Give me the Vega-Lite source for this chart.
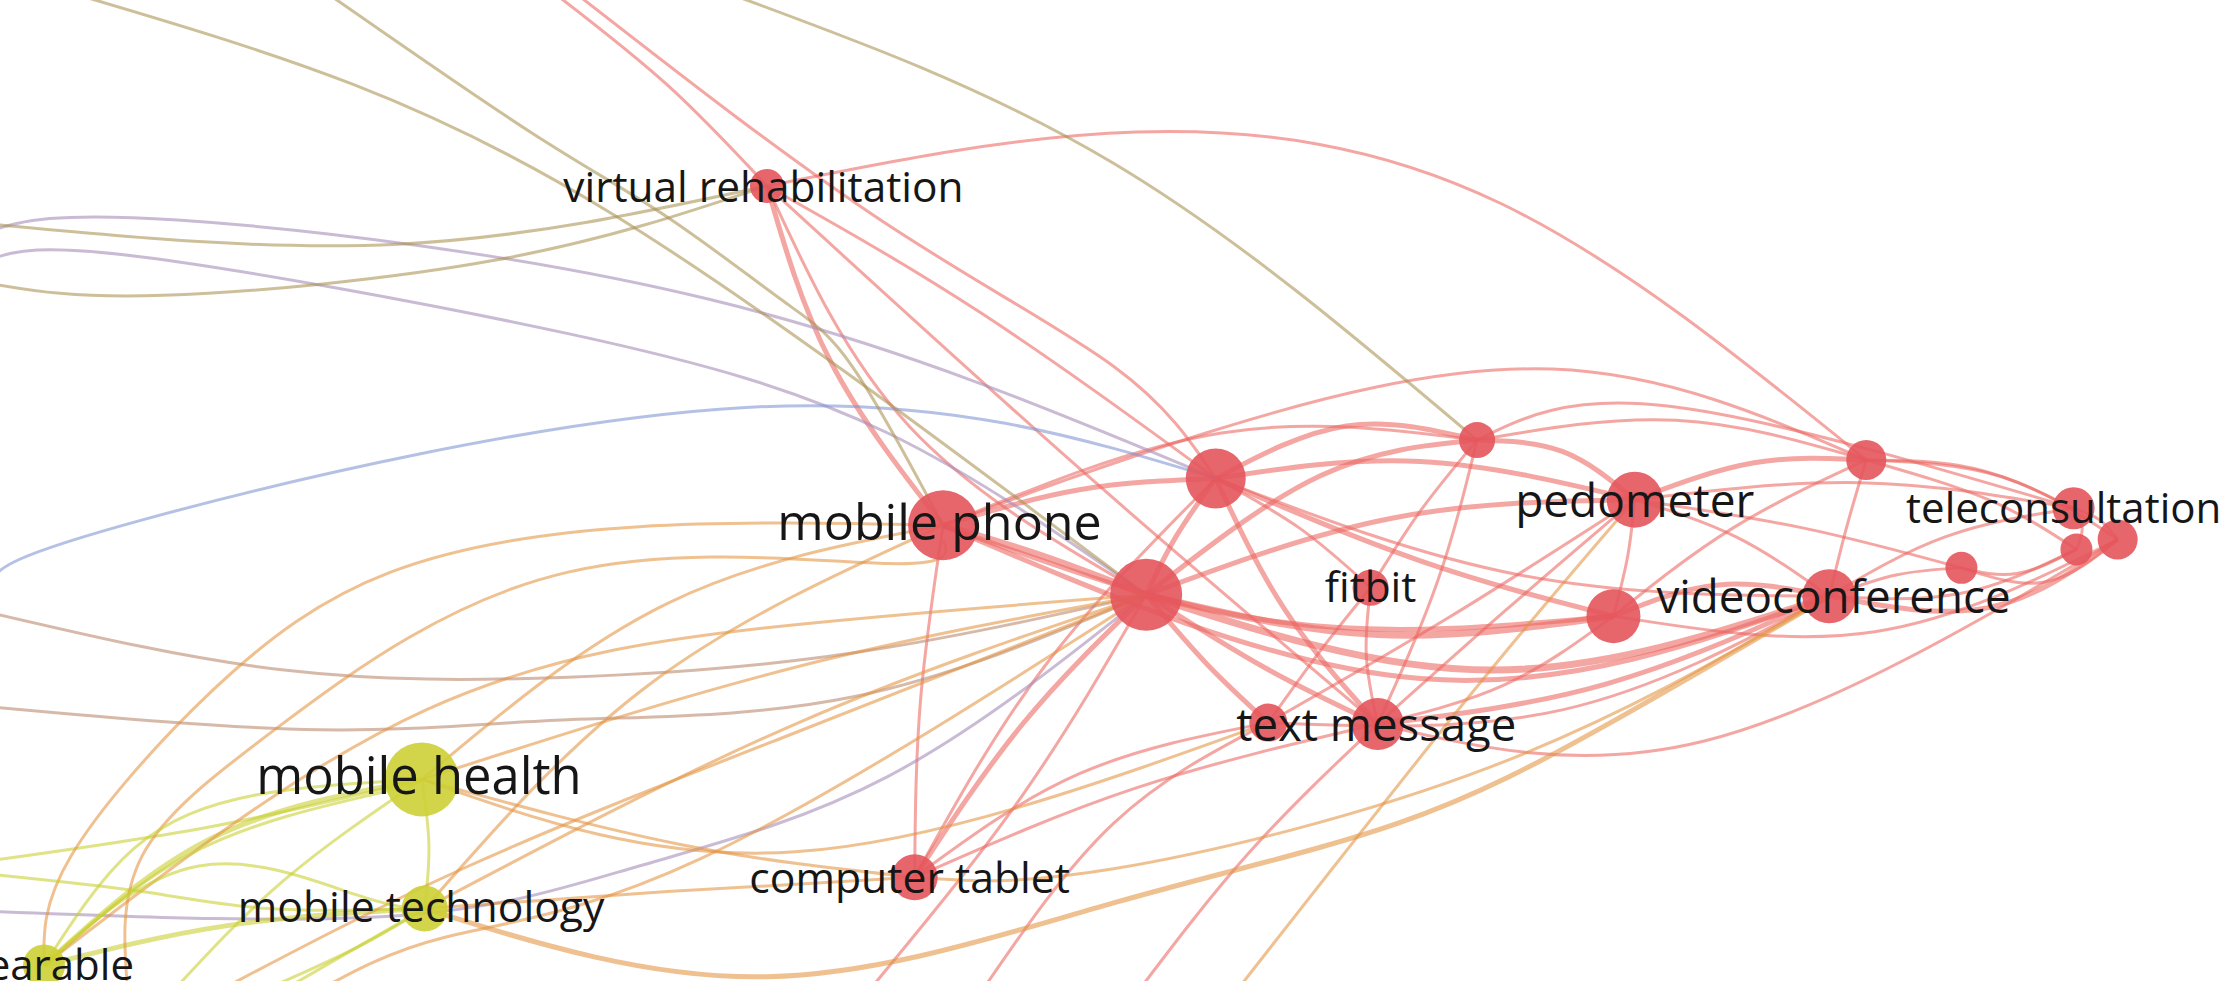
{
"$schema": "https://vega.github.io/schema/vega-lite/v6.json",
"width": 2227, "height": 981, "autosize": "none", "padding": 0,
"background": "white",
"config": {"view": {"stroke": null}},
"datasets": {
"nodes": [
{"id":"A","x":540,"y":131,"w":17,"c":"red","label":"virtual rehabilitation","lx":537.5,"ly":133},
{"id":"B","x":856,"y":337,"w":30,"c":"red","label":"","lx":856,"ly":337},
{"id":"C","x":1040,"y":310,"w":18,"c":"red","label":"","lx":1040,"ly":310},
{"id":"D","x":1151,"y":352,"w":28,"c":"red","label":"pedometer","lx":1151,"ly":354},
{"id":"E","x":1314,"y":324,"w":20,"c":"red","label":"","lx":1314,"ly":324},
{"id":"F","x":1460,"y":358,"w":21,"c":"red","label":"teleconsultation","lx":1453,"ly":359},
{"id":"G","x":1491,"y":380,"w":20,"c":"red","label":"","lx":1491,"ly":380},
{"id":"H","x":1462,"y":387,"w":16,"c":"red","label":"","lx":1462,"ly":387},
{"id":"I","x":1381,"y":400,"w":16,"c":"red","label":"","lx":1381,"ly":400},
{"id":"J","x":1288,"y":420,"w":27,"c":"red","label":"videoconference","lx":1291,"ly":422},
{"id":"K","x":1136,"y":434,"w":27,"c":"red","label":"","lx":1136,"ly":434},
{"id":"L","x":965,"y":414,"w":18,"c":"red","label":"fitbit","lx":965,"ly":415},
{"id":"M","x":807,"y":419,"w":36,"c":"red","label":"","lx":807,"ly":419},
{"id":"N","x":664,"y":370,"w":35,"c":"red","label":"mobile phone","lx":661.5,"ly":370},
{"id":"O","x":893,"y":509,"w":19,"c":"red","label":"","lx":893,"ly":509},
{"id":"P","x":970,"y":510,"w":26,"c":"red","label":"text message","lx":969,"ly":512},
{"id":"Q","x":644,"y":618,"w":23,"c":"red","label":"computer tablet","lx":640.5,"ly":620},
{"id":"R","x":297,"y":549,"w":37,"c":"yellow","label":"mobile health","lx":295,"ly":549},
{"id":"S","x":299,"y":640,"w":23,"c":"yellow","label":"mobile technology","lx":296.5,"ly":640},
{"id":"T","x":31,"y":680,"w":21,"c":"yellow","label":"wearable","lx":31,"ly":681}
],
"edges": [
{"id":1,"t":"rr","w":1,"xs":[540,800,1056,1314],"ys":[131,93,143,324],"k":[0,1,2,3]},
{"id":2,"t":"rr","w":1,"xs":[390,470,540],"ys":[-5,60,131],"k":[0,1,2]},
{"id":3,"t":"rr","w":1,"xs":[405,620,784,856],"ys":[-5,155,258,337],"k":[0,1,2,3]},
{"id":4,"t":"rr","w":1,"xs":[540,690,856],"ys":[131,220,337],"k":[0,1,2]},
{"id":5,"t":"rr","w":1,"xs":[540,640,807],"ys":[131,300,419],"k":[0,1,2]},
{"id":6,"t":"rr","w":2,"xs":[540,585,664],"ys":[131,255,370],"k":[0,1,2]},
{"id":7,"t":"rr","w":1,"xs":[540,760,970],"ys":[131,330,510],"k":[0,1,2]},
{"id":8,"t":"rr","w":1,"xs":[664,849,1093,1314],"ys":[370,305,260,324],"k":[0,1,2,3]},
{"id":9,"t":"rr","w":1,"xs":[1040,1174,1460],"ys":[310,286,358],"k":[0,1,2]},
{"id":10,"t":"rr","w":2,"xs":[856,948,1040],"ys":[337,300,310],"k":[0,1,2]},
{"id":11,"t":"rr","w":2,"xs":[807,930,1040],"ys":[419,335,310],"k":[0,1,2]},
{"id":12,"t":"rr","w":1,"xs":[664,860,1040],"ys":[370,305,310],"k":[0,1,2]},
{"id":13,"t":"rr","w":2,"xs":[856,1000,1151],"ys":[337,325,352],"k":[0,1,2]},
{"id":14,"t":"rr","w":2,"xs":[807,980,1151],"ys":[419,365,352],"k":[0,1,2]},
{"id":15,"t":"rr","w":2,"xs":[1040,1100,1151],"ys":[310,318,352],"k":[0,1,2]},
{"id":16,"t":"rr","w":1,"xs":[1040,1180,1314],"ys":[310,296,324],"k":[0,1,2]},
{"id":17,"t":"rr","w":2,"xs":[1151,1235,1314],"ys":[352,326,324],"k":[0,1,2]},
{"id":18,"t":"rr","w":1,"xs":[856,915,965],"ys":[337,372,414],"k":[0,1,2]},
{"id":19,"t":"rr","w":2,"xs":[856,905,970],"ys":[337,430,510],"k":[0,1,2]},
{"id":20,"t":"rr","w":2,"xs":[807,890,970],"ys":[419,470,510],"k":[0,1,2]},
{"id":21,"t":"rr","w":2,"xs":[807,850,893],"ys":[419,468,509],"k":[0,1,2]},
{"id":22,"t":"rr","w":3,"xs":[807,970,1136],"ys":[419,447,434],"k":[0,1,2]},
{"id":23,"t":"rr","w":3,"xs":[807,1050,1288],"ys":[419,472,420],"k":[0,1,2]},
{"id":24,"t":"rr","w":2,"xs":[856,1000,1136],"ys":[337,395,434],"k":[0,1,2]},
{"id":25,"t":"rr","w":1,"xs":[856,1070,1288],"ys":[337,405,420],"k":[0,1,2]},
{"id":26,"t":"rr","w":2,"xs":[664,900,1136],"ys":[370,438,434],"k":[0,1,2]},
{"id":27,"t":"rr","w":2,"xs":[664,1000,1288],"ys":[370,478,420],"k":[0,1,2]},
{"id":28,"t":"rr","w":3,"xs":[664,735,807],"ys":[370,392,419],"k":[0,1,2]},
{"id":29,"t":"rr","w":2,"xs":[664,760,856],"ys":[370,345,337],"k":[0,1,2]},
{"id":30,"t":"rr","w":2,"xs":[807,828,856],"ys":[419,378,337],"k":[0,1,2]},
{"id":31,"t":"rr","w":1,"xs":[965,962,970],"ys":[414,462,510],"k":[0,1,2]},
{"id":32,"t":"rr","w":1,"xs":[965,930,893],"ys":[414,458,509],"k":[0,1,2]},
{"id":33,"t":"rr","w":1,"xs":[1040,1012,970],"ys":[310,410,510],"k":[0,1,2]},
{"id":34,"t":"rr","w":1,"xs":[1040,1000,965],"ys":[310,360,414],"k":[0,1,2]},
{"id":35,"t":"rr","w":1,"xs":[1151,1060,970],"ys":[352,430,510],"k":[0,1,2]},
{"id":36,"t":"rr","w":1,"xs":[1151,1020,893],"ys":[352,435,509],"k":[0,1,2]},
{"id":37,"t":"rr","w":1,"xs":[1151,1146,1136],"ys":[352,392,434],"k":[0,1,2]},
{"id":38,"t":"rr","w":1,"xs":[1151,1222,1288],"ys":[352,378,420],"k":[0,1,2]},
{"id":39,"t":"rr","w":2,"xs":[1136,1210,1288],"ys":[434,412,420],"k":[0,1,2]},
{"id":40,"t":"rr","w":2,"xs":[970,1130,1288],"ys":[510,482,420],"k":[0,1,2]},
{"id":41,"t":"rr","w":1,"xs":[893,1100,1288],"ys":[509,500,420],"k":[0,1,2]},
{"id":42,"t":"rr","w":1,"xs":[970,1060,1136],"ys":[510,482,434],"k":[0,1,2]},
{"id":43,"t":"rr","w":1,"xs":[1288,1335,1381],"ys":[420,405,400],"k":[0,1,2]},
{"id":44,"t":"rr","w":1,"xs":[1288,1370,1460],"ys":[420,378,358],"k":[0,1,2]},
{"id":45,"t":"rr","w":2,"xs":[1288,1400,1491],"ys":[420,428,380],"k":[0,1,2]},
{"id":46,"t":"rr","w":1,"xs":[1288,1380,1462],"ys":[420,418,387],"k":[0,1,2]},
{"id":47,"t":"rr","w":1,"xs":[1381,1420,1462],"ys":[400,404,387],"k":[0,1,2]},
{"id":48,"t":"rr","w":1,"xs":[1381,1440,1491],"ys":[400,410,380],"k":[0,1,2]},
{"id":49,"t":"rr","w":1,"xs":[1314,1390,1460],"ys":[324,330,358],"k":[0,1,2]},
{"id":50,"t":"rr","w":1,"xs":[1314,1410,1491],"ys":[324,336,380],"k":[0,1,2]},
{"id":51,"t":"rr","w":1,"xs":[1314,1400,1462],"ys":[324,352,387],"k":[0,1,2]},
{"id":52,"t":"rr","w":1,"xs":[1314,1300,1288],"ys":[324,372,420],"k":[0,1,2]},
{"id":53,"t":"rr","w":1,"xs":[1314,1220,1136],"ys":[324,372,434],"k":[0,1,2]},
{"id":54,"t":"rr","w":1,"xs":[1460,1466,1462],"ys":[358,372,387],"k":[0,1,2]},
{"id":55,"t":"rr","w":1,"xs":[1460,1478,1491],"ys":[358,366,380],"k":[0,1,2]},
{"id":56,"t":"rr","w":1,"xs":[970,1200,1491],"ys":[510,522,380],"k":[0,1,2]},
{"id":57,"t":"rr","w":2,"xs":[807,720,644],"ys":[419,510,618],"k":[0,1,2]},
{"id":58,"t":"rr","w":1,"xs":[664,648,644],"ys":[370,495,618],"k":[0,1,2]},
{"id":59,"t":"rr","w":1,"xs":[856,735,644],"ys":[337,470,618],"k":[0,1,2]},
{"id":60,"t":"rr","w":1,"xs":[644,760,893],"ys":[618,545,509],"k":[0,1,2]},
{"id":61,"t":"rr","w":1,"xs":[644,800,970],"ys":[618,555,510],"k":[0,1,2]},
{"id":62,"t":"rr","w":1,"xs":[807,720,610],"ys":[419,560,700],"k":[0,1,2]},
{"id":63,"t":"rr","w":1,"xs":[893,784,690],"ys":[509,580,700],"k":[0,1,2]},
{"id":64,"t":"rr","w":1,"xs":[970,880,800],"ys":[510,600,700],"k":[0,1,2]},
{"id":65,"t":"ry","w":1,"xs":[869,1034,1151],"ys":[700,491,352],"k":[0,1,2]},
{"id":66,"t":"rr","w":1,"xs":[1136,1320,1491],"ys":[434,445,380],"k":[0,1,2]},
{"id":67,"t":"rr","w":1,"xs":[1151,1310,1460],"ys":[352,340,358],"k":[0,1,2]},
{"id":68,"t":"rr","w":1,"xs":[1151,1270,1381],"ys":[352,372,400],"k":[0,1,2]},
{"id":69,"t":"rp","w":1,"xs":[-5,125,500,856],"ys":[162,155,211,337],"k":[0,1,2,3]},
{"id":70,"t":"rp","w":1,"xs":[-5,100,400,625,807],"ys":[182,181,235,305,419],"k":[0,1,2,3,4]},
{"id":71,"t":"yo","w":1,"xs":[-5,280,540],"ys":[158,172,131],"k":[0,1,2]},
{"id":72,"t":"yo","w":1,"xs":[-5,115,350,540],"ys":[200,208,183,131],"k":[0,1,2,3]},
{"id":73,"t":"rb","w":1,"xs":[-5,101,525,856],"ys":[408,366,287,337],"k":[0,1,2,3]},
{"id":74,"t":"br","w":1,"xs":[-5,200,400,600,807],"ys":[432,472,477,460,419],"k":[0,1,2,3,4]},
{"id":75,"t":"br","w":1,"xs":[-5,225,400,600,807],"ys":[498,514,507,491,419],"k":[0,1,2,3,4]},
{"id":76,"t":"rp","w":1,"xs":[-5,280,450,625,807],"ys":[642,645,610,547,419],"k":[0,1,2,3,4]},
{"id":77,"t":"yo","w":1,"xs":[50,250,430,620,807],"ys":[-5,60,150,280,419],"k":[0,1,2,3,4]},
{"id":78,"t":"yo","w":1,"xs":[230,375,470,550,600,664],"ys":[-5,94,153,211,258,370],"k":[0,1,2,3,4,5]},
{"id":79,"t":"yo","w":1,"xs":[512,784,1040],"ys":[-5,115,310],"k":[0,1,2]},
{"id":80,"t":"yy","w":1,"xs":[297,302,299],"ys":[549,595,640],"k":[0,1,2]},
{"id":81,"t":"yy","w":2,"xs":[297,150,31],"ys":[549,590,680],"k":[0,1,2]},
{"id":82,"t":"yy","w":2,"xs":[299,160,31],"ys":[640,652,680],"k":[0,1,2]},
{"id":83,"t":"yy","w":1,"xs":[297,150,-5],"ys":[549,582,606],"k":[0,1,2]},
{"id":84,"t":"yy","w":1,"xs":[299,250,180],"ys":[640,668,700],"k":[0,1,2]},
{"id":85,"t":"ry","w":1,"xs":[297,470,664],"ys":[549,425,370],"k":[0,1,2]},
{"id":86,"t":"ry","w":1,"xs":[297,560,807],"ys":[549,470,419],"k":[0,1,2]},
{"id":87,"t":"ry","w":1,"xs":[297,480,644],"ys":[549,595,618],"k":[0,1,2]},
{"id":88,"t":"ry","w":1,"xs":[299,470,644],"ys":[640,628,618],"k":[0,1,2]},
{"id":89,"t":"ry","w":1,"xs":[299,460,664],"ys":[640,480,370],"k":[0,1,2]},
{"id":90,"t":"ry","w":1,"xs":[299,560,807],"ys":[640,510,419],"k":[0,1,2]},
{"id":91,"t":"ry","w":1,"xs":[31,50,150,275,450,664],"ys":[680,603,486,403,371,370],"k":[0,1,2,3,4,5]},
{"id":92,"t":"ry","w":1,"xs":[90,100,200,400,625,664],"ys":[700,603,509,403,397,380],"k":[0,1,2,3,4,5]},
{"id":93,"t":"ry","w":1,"xs":[31,300,560,807],"ys":[680,500,440,419],"k":[0,1,2,3]},
{"id":94,"t":"ry","w":2,"xs":[299,540,784,984,1134,1288],"ys":[640,688,636,580,509,420],"k":[0,1,2,3,4,5]},
{"id":95,"t":"yy","w":1,"xs":[120,200,297],"ys":[700,620,549],"k":[0,1,2]},
{"id":96,"t":"ry","w":1,"xs":[297,560,893],"ys":[549,600,509],"k":[0,1,2]},
{"id":97,"t":"yy","w":1,"xs":[-5,100,189,299],"ys":[616,628,640,640],"k":[0,1,2,3]},
{"id":98,"t":"ry","w":1,"xs":[644,784,1050,1288],"ys":[618,612,540,420],"k":[0,1,2,3]},
{"id":99,"t":"ry","w":1,"xs":[220,314,493,807],"ys":[700,660,605,419],"k":[0,1,2,3]},
{"id":100,"t":"yy","w":1,"xs":[195,250,299],"ys":[700,668,640],"k":[0,1,2]},
{"id":101,"t":"yy","w":1,"xs":[31,94,180,297],"ys":[680,598,560,549],"k":[0,1,2,3]},
{"id":102,"t":"yy","w":1,"xs":[31,141,261,297],"ys":[680,598,560,549],"k":[0,1,2,3]},
{"id":103,"t":"ry","w":1,"xs":[150,330,550,807],"ys":[700,610,520,419],"k":[0,1,2,3]},
{"id":104,"t":"yy","w":1,"xs":[31,140,250,299],"ys":[680,610,630,640],"k":[0,1,2,3]}
]
},
"layer": [
{
"data": {"name": "edges"},
"transform": [{"flatten": ["xs", "ys", "k"]}],
"mark": {"type": "line", "interpolate": "natural", "opacity": 0.58, "clip": true},
"encoding": {
"x": {"field": "xs", "type": "quantitative", "scale": {"domain": [0, 1568], "nice": false, "zero": false}, "axis": null},
"y": {"field": "ys", "type": "quantitative", "scale": {"domain": [0, 691], "nice": false, "zero": false, "reverse": true}, "axis": null},
"detail": {"field": "id", "type": "nominal"},
"order": {"field": "k", "type": "quantitative"},
"color": {"field": "t", "type": "nominal", "scale": {"domain": ["rr","ry","yy","rp","rb","yo","br","red","yellow"], "range": ["#ec6660","#e49240","#c8ce2e","#a489b6","#8092d2","#a89050","#b8876a","#e4555c","#cdd035"]}, "legend": null},
"strokeWidth": {"field": "w", "type": "quantitative", "scale": {"domain": [1, 3], "range": [3, 7]}, "legend": null}
}
},
{
"data": {"name": "nodes"},
"mark": {"type": "point", "filled": true, "shape": "circle", "opacity": 0.9, "strokeWidth": 0},
"encoding": {
"x": {"field": "x", "type": "quantitative", "scale": {"domain": [0, 1568], "nice": false, "zero": false}, "axis": null},
"y": {"field": "y", "type": "quantitative", "scale": {"domain": [0, 691], "nice": false, "zero": false, "reverse": true}, "axis": null},
"size": {"field": "w", "type": "quantitative", "scale": {"type": "pow", "exponent": 2, "domain": [0, 40], "range": [0, 6400]}, "legend": null},
"color": {"field": "c", "type": "nominal", "scale": {"domain": ["rr","ry","yy","rp","rb","yo","br","red","yellow"], "range": ["#ec6660","#e49240","#c8ce2e","#a489b6","#8092d2","#a89050","#b8876a","#e4555c","#cdd035"]}, "legend": null}
}
},
{
"data": {"name": "nodes"},
"transform": [{"filter": "datum.label != ''"}],
"mark": {"type": "text", "font": "Open Sans", "color": "#161616", "align": "center", "baseline": "middle"},
"encoding": {
"x": {"field": "lx", "type": "quantitative", "scale": {"domain": [0, 1568], "nice": false, "zero": false}, "axis": null},
"y": {"field": "ly", "type": "quantitative", "scale": {"domain": [0, 691], "nice": false, "zero": false, "reverse": true}, "axis": null},
"text": {"field": "label", "type": "nominal"},
"size": {"field": "w", "type": "quantitative", "scale": {"domain": [17, 21, 23, 26, 28, 35, 37], "range": [42.4, 42.0, 42.7, 45.5, 46, 50.2, 50.7]}, "legend": null}
}
}
],
"resolve": {"scale": {"size": "independent"}}
}
